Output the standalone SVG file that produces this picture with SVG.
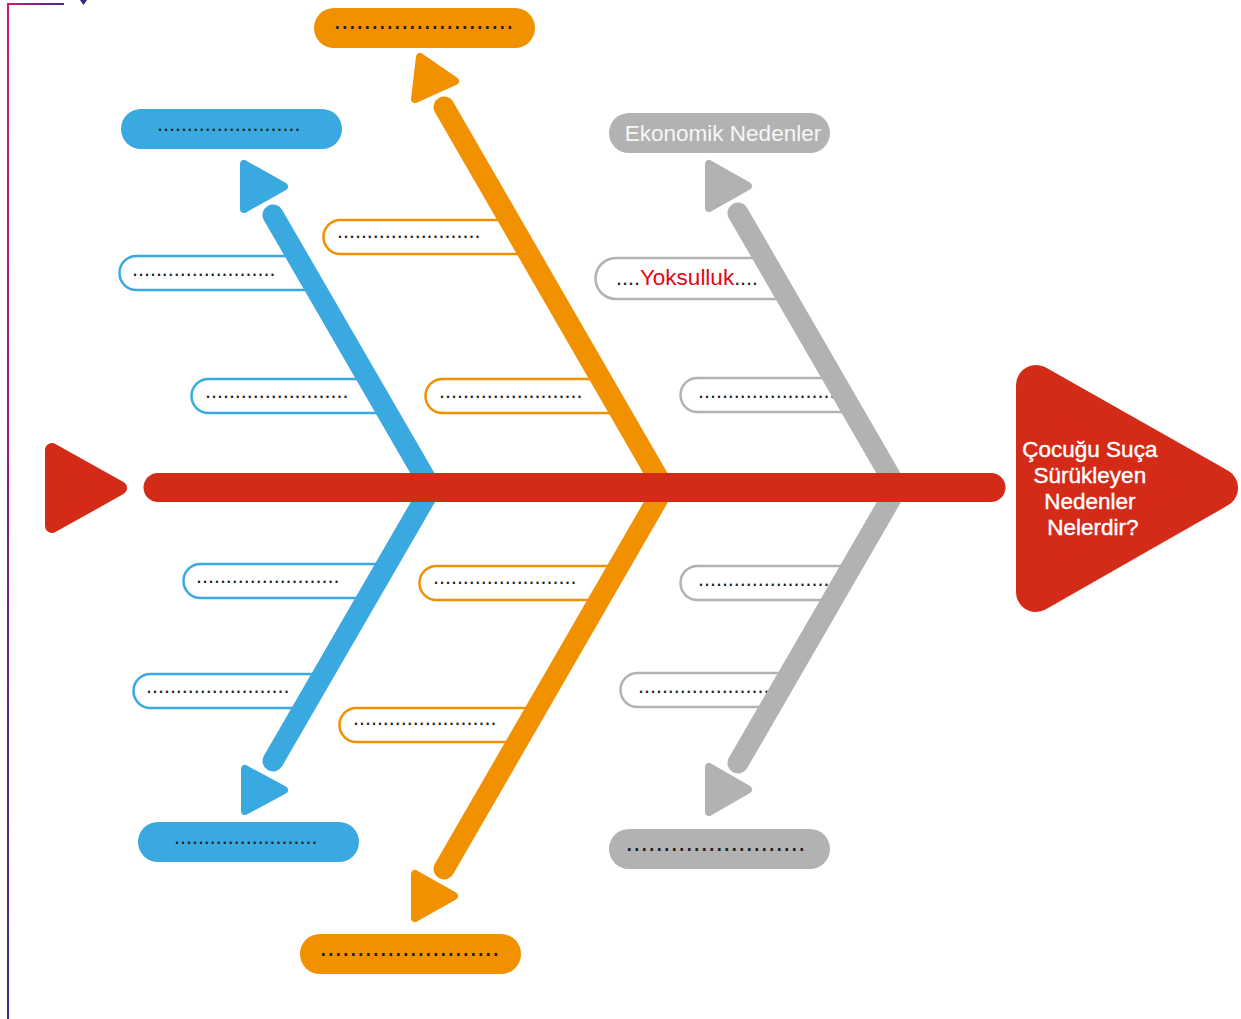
<svg xmlns="http://www.w3.org/2000/svg" width="1241" height="1019" viewBox="0 0 1241 1019">
  <defs>
    <linearGradient id="gH" x1="0" y1="0" x2="1" y2="0">
      <stop offset="0" stop-color="#d4147f"/>
      <stop offset="1" stop-color="#3d2b8f"/>
    </linearGradient>
    <linearGradient id="gV" gradientUnits="userSpaceOnUse" x1="0" y1="0" x2="0" y2="1019">
      <stop offset="0" stop-color="#d4147f"/>
      <stop offset="1" stop-color="#3b2a8c"/>
    </linearGradient>
  </defs>
  <style>
    text { font-family: "Liberation Sans", Arial, sans-serif; }
    .dots { font-size: 21.5px; fill: #222; }
    .dotsL { font-size: 27px; fill: #222; }
    .ob { fill: #fff; stroke: #39a9df; stroke-width: 2.5; }
    .oo { fill: #fff; stroke: #f29100; stroke-width: 2.5; }
    .og { fill: #fff; stroke: #b2b2b2; stroke-width: 2.5; }
    .fb { fill: #39a9df; }
    .fo { fill: #f29100; }
    .fg { fill: #b2b2b2; }
    .tri { stroke-width: 8; stroke-linejoin: round; }
    .bone { fill: none; stroke-width: 21; stroke-linecap: round; stroke-linejoin: miter; }
  </style>

  <!-- frame decoration -->
  <g id="frame">
    <rect x="7" y="3" width="57" height="2" fill="url(#gH)"/>
    <rect x="7" y="3" width="2" height="1016" fill="url(#gV)"/>
    <polygon points="80,0 87,0 83.5,5" fill="#2e2a7c"/>
  </g>

  <!-- outline pills (under bones) -->
  <g id="blue-cause-1"><path class="ob" d="M296.5,256 H136.5 A17 17 0 0 0 136.5,290 H317.3"/><text class="dots" x="132" y="276">........................</text></g>
  <g id="blue-cause-2"><path class="ob" d="M367.5,379 H208.5 A17 17 0 0 0 208.5,413 H388.3"/><text class="dots" x="205" y="398">........................</text></g>
  <g id="blue-cause-3"><path class="ob" d="M387.7,564 H200.5 A17 17 0 0 0 200.5,598 H367.5"/><text class="dots" x="196" y="582.5">........................</text></g>
  <g id="blue-cause-4"><path class="ob" d="M324.2,674 H150.5 A17 17 0 0 0 150.5,708 H304"/><text class="dots" x="146" y="692.5">........................</text></g>

  <g id="orange-cause-1"><path class="oo" d="M508.7,220 H340.5 A17 17 0 0 0 340.5,254 H529.5"/><text class="dots" x="337" y="238">........................</text></g>
  <g id="orange-cause-2"><path class="oo" d="M600.5,379 H442.5 A17 17 0 0 0 442.5,413 H620.7"/><text class="dots" x="439" y="398">........................</text></g>
  <g id="orange-cause-3"><path class="oo" d="M619.5,566 H436.5 A17 17 0 0 0 436.5,600 H599.3"/><text class="dots" x="433" y="584">........................</text></g>
  <g id="orange-cause-4"><path class="oo" d="M537.6,708 H356.5 A17 17 0 0 0 356.5,742 H517.4"/><text class="dots" x="353" y="725">........................</text></g>

  <g id="gray-cause-1"><path class="og" d="M763.6,258 H616 A20.5 20.5 0 0 0 616,299 H788.5"/><text x="616" y="284.5" font-size="21.5" fill="#222">....<tspan font-size="22.5" fill="#e30613">Yoksulluk</tspan>....</text></g>
  <g id="gray-cause-2"><path class="og" d="M832.9,378 H697.5 A17 17 0 0 0 697.5,412 H853.1"/><text class="dots" x="698" y="397.5">........................</text></g>
  <g id="gray-cause-3"><path class="og" d="M852.5,566 H697.5 A17 17 0 0 0 697.5,600 H832.3"/><text class="dots" x="698" y="585.5">........................</text></g>
  <g id="gray-cause-4"><path class="og" d="M790.8,673 H637.5 A17 17 0 0 0 637.5,707 H770.6"/><text class="dots" x="638" y="693">........................</text></g>

  <!-- connectors: bones and spine -->
  <g id="connectors">
    <polyline class="bone" stroke="#39a9df" points="273,215 431,488 273,761"/>
    <polyline class="bone" stroke="#f29100" points="444,107 664,488 444,869"/>
    <polyline class="bone" stroke="#b2b2b2" points="738,213 897,488 738,763"/>
    <line x1="158" y1="487.5" x2="991" y2="487.5" stroke="#d42a18" stroke-width="29" stroke-linecap="round"/>
  </g>

  <!-- arrowheads -->
  <g id="arrows">
    <polygon class="tri fb" stroke="#39a9df" points="244,164 244,209 284,186.5"/>
    <polygon class="tri fb" stroke="#39a9df" points="245,769 245,811 284,790"/>
    <polygon class="tri fo" stroke="#f29100" points="420,57 415,99 455,81"/>
    <polygon class="tri fo" stroke="#f29100" points="415,874 415,918 454,896"/>
    <polygon class="tri fg" stroke="#b2b2b2" points="709,164 709,208 748,186"/>
    <polygon class="tri fg" stroke="#b2b2b2" points="709,767 709,812 748,789.5"/>
  </g>

  <!-- category pills -->
  <g id="blue-top"><rect class="fb" x="121" y="109" width="221" height="40" rx="20"/><text class="dots" x="157" y="131">........................</text></g>
  <g id="orange-top"><rect class="fo" x="314" y="8" width="221" height="40" rx="20"/><text class="dotsL" x="333.5" y="29">........................</text></g>
  <g id="gray-top"><rect class="fg" x="609" y="113" width="221" height="40" rx="20"/><text x="723" y="141" font-size="22.5" fill="#f7f7f7" text-anchor="middle">Ekonomik Nedenler</text></g>
  <g id="blue-bottom"><rect class="fb" x="138" y="822" width="221" height="40" rx="20"/><text class="dots" x="174" y="844">........................</text></g>
  <g id="orange-bottom"><rect class="fo" x="300" y="934" width="221" height="40" rx="20"/><text class="dotsL" x="319.5" y="956">........................</text></g>
  <g id="gray-bottom"><rect class="fg" x="609" y="829" width="221" height="40" rx="20"/><text class="dotsL" x="625.5" y="851">........................</text></g>

  <!-- tail -->
  <g id="tail">
    <polygon points="52,450 52,526 120,488" fill="#d42a18" stroke="#d42a18" stroke-width="14" stroke-linejoin="round"/>
  </g>

  <!-- head -->
  <g id="head">
    <polygon points="1036,385 1036,592 1218,488" fill="#d42a18" stroke="#d42a18" stroke-width="40" stroke-linejoin="round"/>
    <text x="1093" font-size="22.5" fill="#fff" stroke="#fff" stroke-width="0.4" text-anchor="middle">
      <tspan x="1093" y="457">Çocuğu Suça</tspan>
      <tspan x="1093" y="483">Sürükleyen</tspan>
      <tspan x="1093" y="509">Nedenler</tspan>
      <tspan x="1093" y="535">Nelerdir?</tspan>
    </text>
  </g>
</svg>
